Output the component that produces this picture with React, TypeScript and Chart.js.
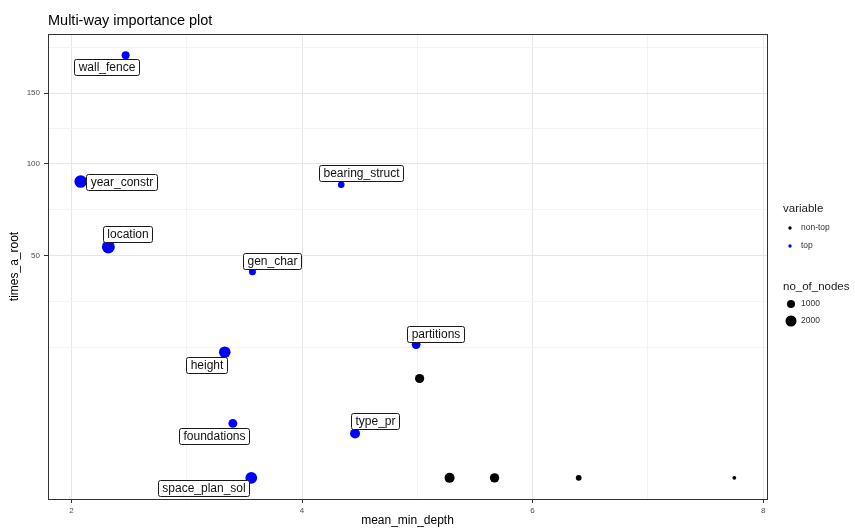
import React, { useEffect, useRef } from "react";
import { Chart, registerables } from "chart.js";

Chart.register(...registerables);

// ---------- data ----------
const topVariables = [
  "wall_fence",
  "year_constr",
  "location",
  "bearing_struct",
  "gen_char",
  "partitions",
  "height",
  "foundations",
  "type_pr",
  "space_plan_sol",
];
const topMeanMinDepth = [2.47, 2.08, 2.32, 4.34, 3.57, 4.99, 3.33, 3.4, 4.46, 3.56];
const topTimesARoot = [181, 89, 54, 87, 43, 18, 16, 3, 2, 0];
const topNoOfNodes = [1000, 2750, 2960, 710, 780, 1220, 2260, 1220, 1610, 2350];

const nonTopMeanMinDepth = [5.02, 5.28, 5.67, 6.4, 7.75];
const nonTopTimesARoot = [10, 0, 0, 0, 0];
const nonTopNoOfNodes = [1340, 1610, 1400, 600, 480];

const xTickValues = [2, 4, 6, 8];
const yTickValues = [50, 100, 150];
const variableLegend = ["non-top", "top"];
const sizeLegend = [1000, 2000];

// ---------- layout / style ----------
const FONT = '"Liberation Sans", Arial, Helvetica, sans-serif';
const TOP_COLOR = "#0000ff";
const NONTOP_COLOR = "#000000";

// label box offsets from point (px), as placed by ggrepel
const LABEL_OFFSETS: Record<string, [number, number]> = {
  wall_fence: [-19, 12],
  year_constr: [41, 0.5],
  location: [19, -13],
  bearing_struct: [20, -12],
  gen_char: [20, -11],
  partitions: [19, -11],
  height: [-18, 13],
  foundations: [-19, 12.5],
  type_pr: [20, -12],
  space_plan_sol: [-48, 10],
};

const allNodes = [...topNoOfNodes, ...nonTopNoOfNodes];
const nMin = Math.min(...allNodes);
const nMax = Math.max(...allNodes);
const radius = (n: number) => 1.9 + 4.6 * Math.sqrt(Math.max(0, n - nMin) / (nMax - nMin));

// ggplot-like expanded limits
const allX = [...topMeanMinDepth, ...nonTopMeanMinDepth];
const allYs = [...topTimesARoot, ...nonTopTimesARoot].map(Math.sqrt);
const xLo = Math.min(...allX), xHi = Math.max(...allX);
const yLo = Math.min(...allYs), yHi = Math.max(...allYs);
const xMin = xLo - 0.05 * (xHi - xLo);
const xMax = xHi + 0.05 * (xHi - xLo);
const yMin = yLo - 0.05 * (yHi - yLo);
const yMax = yHi + 0.05 * (yHi - yLo);

// grid lines (major + regular minor, ggplot style)
function gridFrom(b: number[], lo: number, hi: number) {
  const bd = b[1] - b[0];
  const ext = [b[0] - bd, ...b, b[b.length - 1] + bd];
  const out: { v: number; major: boolean }[] = [];
  for (let i = 0; i < ext.length - 1; i++) {
    out.push({ v: ext[i], major: b.includes(ext[i]) });
    out.push({ v: (ext[i] + ext[i + 1]) / 2, major: false });
  }
  out.push({ v: ext[ext.length - 1], major: false });
  return out.filter((g) => g.v >= lo && g.v <= hi);
}
const xGrid = gridFrom(xTickValues, xMin, xMax);
const yGrid = gridFrom(yTickValues.map(Math.sqrt), yMin, yMax);
const isMajorX = (v: number) => xTickValues.some((t) => Math.abs(t - v) < 1e-9);
const isMajorY = (v: number) => yTickValues.some((t) => Math.abs(Math.sqrt(t) - v) < 1e-9);

function roundRect(ctx: CanvasRenderingContext2D, x: number, y: number, w: number, h: number, r: number) {
  ctx.beginPath();
  ctx.moveTo(x + r, y);
  ctx.lineTo(x + w - r, y);
  ctx.arcTo(x + w, y, x + w, y + r, r);
  ctx.lineTo(x + w, y + h - r);
  ctx.arcTo(x + w, y + h, x + w - r, y + h, r);
  ctx.lineTo(x + r, y + h);
  ctx.arcTo(x, y + h, x, y + h - r, r);
  ctx.lineTo(x, y + r);
  ctx.arcTo(x, y, x + r, y, r);
  ctx.closePath();
}

const decorPlugin = {
  id: "decor",
  afterDatasetsDraw(chart: any) {
    const ctx: CanvasRenderingContext2D = chart.ctx;
    const meta = chart.getDatasetMeta(1);
    ctx.save();
    ctx.font = `12px ${FONT}`;
    ctx.textAlign = "center";
    ctx.textBaseline = "middle";
    topVariables.forEach((name, i) => {
      const el = meta.data[i];
      const [dx, dy] = LABEL_OFFSETS[name] || [0, 0];
      const cx = el.x + dx;
      const cy = el.y + dy;
      const w = Math.round(ctx.measureText(name).width + 8);
      const h = 16;
      const x0 = Math.round(cx - w / 2) + 0.5;
      const y0 = Math.round(cy - h / 2) + 0.5;
      roundRect(ctx, x0, y0, w, h, 2);
      ctx.fillStyle = "#ffffff";
      ctx.fill();
      ctx.lineWidth = 1;
      ctx.strokeStyle = "#1a1a1a";
      ctx.stroke();
      ctx.fillStyle = "#111111";
      ctx.fillText(name, x0 + w / 2, y0 + h / 2 + 0.5);
    });
    // panel border
    const a = chart.chartArea;
    ctx.strokeStyle = "#333333";
    ctx.lineWidth = 1;
    ctx.strokeRect(Math.round(a.left) + 0.5, Math.round(a.top) + 0.5, Math.round(a.right - a.left), Math.round(a.bottom - a.top));
    ctx.restore();
  },
  afterDraw(chart: any) {
    const ctx: CanvasRenderingContext2D = chart.ctx;
    const a = chart.chartArea;
    ctx.save();
    // title
    ctx.fillStyle = "#000000";
    ctx.font = `14.5px ${FONT}`;
    ctx.textAlign = "left";
    ctx.textBaseline = "alphabetic";
    ctx.fillText("Multi-way importance plot", a.left, 25);
    // axis titles
    ctx.font = `12px ${FONT}`;
    ctx.textAlign = "center";
    ctx.textBaseline = "middle";
    ctx.fillText("mean_min_depth", (a.left + a.right) / 2, 521);
    ctx.save();
    ctx.translate(15, (a.top + a.bottom) / 2);
    ctx.rotate(-Math.PI / 2);
    ctx.fillText("times_a_root", 0, 0);
    ctx.restore();
    // legend
    const lx = 783;
    ctx.textAlign = "left";
    ctx.font = `11.5px ${FONT}`;
    ctx.fillStyle = "#1a1a1a";
    ctx.fillText("variable", lx, 209);
    const colors = [NONTOP_COLOR, TOP_COLOR];
    variableLegend.forEach((lab, i) => {
      const y = 228 + i * 18;
      ctx.fillStyle = colors[i];
      ctx.beginPath();
      ctx.arc(790, y, 1.7, 0, Math.PI * 2);
      ctx.fill();
      ctx.fillStyle = "#333333";
      ctx.font = `8.5px ${FONT}`;
      ctx.fillText(lab, 801, y);
    });
    ctx.font = `11.5px ${FONT}`;
    ctx.fillStyle = "#1a1a1a";
    ctx.fillText("no_of_nodes", lx, 287);
    sizeLegend.forEach((n, i) => {
      const y = 304 + i * 17;
      ctx.fillStyle = "#000000";
      ctx.beginPath();
      ctx.arc(791, y, radius(n), 0, Math.PI * 2);
      ctx.fill();
      ctx.fillStyle = "#333333";
      ctx.font = `8.5px ${FONT}`;
      ctx.fillText(String(n), 801, y);
    });
    ctx.restore();
  },
};

export default function App() {
  const ref = useRef<HTMLCanvasElement | null>(null);
  useEffect(() => {
    document.body.style.margin = "0";
    const canvas = ref.current;
    if (!canvas) return;
    const chart = new Chart(canvas, {
      type: "scatter",
      data: {
        datasets: [
          {
            label: "non-top",
            data: nonTopMeanMinDepth.map((x, i) => ({ x, y: Math.sqrt(nonTopTimesARoot[i]) })),
            backgroundColor: NONTOP_COLOR,
            borderWidth: 0,
            pointRadius: nonTopNoOfNodes.map(radius),
            pointHoverRadius: nonTopNoOfNodes.map(radius),
            pointBorderWidth: 0,
          },
          {
            label: "top",
            data: topMeanMinDepth.map((x, i) => ({ x, y: Math.sqrt(topTimesARoot[i]) })),
            backgroundColor: TOP_COLOR,
            borderWidth: 0,
            pointRadius: topNoOfNodes.map(radius),
            pointHoverRadius: topNoOfNodes.map(radius),
            pointBorderWidth: 0,
          },
        ],
      },
      options: {
        animation: false,
        responsive: false,
        events: [],
        layout: { padding: { left: 0, top: 34, right: 88, bottom: 0 } },
        plugins: {
          legend: { display: false },
          tooltip: { enabled: false },
          title: { display: false },
        },
        scales: {
          x: {
            type: "linear",
            min: xMin,
            max: xMax,
            afterFit: (s: any) => {
              s.height = 29;
            },
            afterBuildTicks: (s: any) => {
              s.ticks = xGrid.map((g) => ({ value: g.v }));
            },
            ticks: {
              autoSkip: false,
              maxRotation: 0,
              padding: 3,
              color: "#4d4d4d",
              font: { size: 8, family: FONT },
              callback: (v: any) => (isMajorX(Number(v)) ? String(Math.round(Number(v))) : ""),
            },
            grid: {
              color: (c: any) => (c.tick && isMajorX(c.tick.value) ? "#e6e6e6" : "#f3f3f3"),
              lineWidth: 1,
              tickLength: 4,
              tickColor: (c: any) => (c.tick && isMajorX(c.tick.value) ? "#333333" : "rgba(0,0,0,0)"),
            },
            border: { display: false },
          },
          y: {
            type: "linear",
            min: yMin,
            max: yMax,
            afterFit: (s: any) => {
              s.width = 48;
            },
            afterBuildTicks: (s: any) => {
              s.ticks = yGrid.map((g) => ({ value: g.v }));
            },
            ticks: {
              autoSkip: false,
              padding: 4,
              color: "#4d4d4d",
              font: { size: 8, family: FONT },
              callback: (v: any) => {
                const m = yTickValues.find((t) => Math.abs(Math.sqrt(t) - Number(v)) < 1e-9);
                return m !== undefined ? String(m) : "";
              },
            },
            grid: {
              color: (c: any) => (c.tick && isMajorY(c.tick.value) ? "#e6e6e6" : "#f3f3f3"),
              lineWidth: 1,
              tickLength: 4,
              tickColor: (c: any) => (c.tick && isMajorY(c.tick.value) ? "#333333" : "rgba(0,0,0,0)"),
            },
            border: { display: false },
          },
        },
      } as any,
      plugins: [decorPlugin],
    });
    return () => chart.destroy();
  }, []);
  return (
    <div style={{ position: "absolute", left: 0, top: 0, width: 855, height: 528, background: "#ffffff" }}>
      <canvas ref={ref} width={855} height={528} style={{ display: "block", width: 855, height: 528 }} />
    </div>
  );
}
